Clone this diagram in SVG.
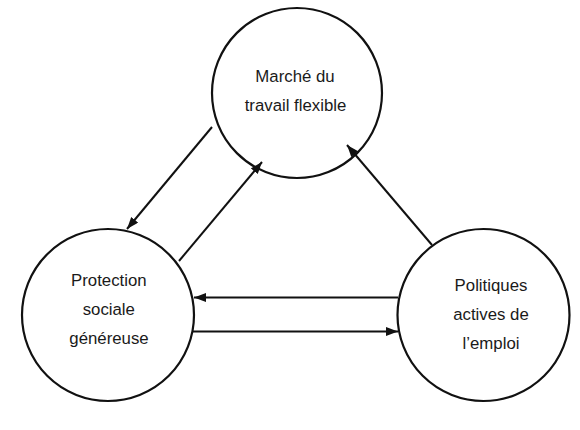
<svg xmlns="http://www.w3.org/2000/svg" width="580" height="430" viewBox="0 0 580 430">
  <style>
    .node circle { fill: #ffffff; stroke: #111111; stroke-width: 2.2; }
    .node text { font-family: "Liberation Sans", Arial, sans-serif; font-size: 16.8px; fill: #1a1a1a; text-anchor: middle; }
    .edge { stroke: #111111; stroke-width: 2; fill: none; marker-end: url(#arrow); }
  </style>
  <defs>
    <marker id="arrow" markerUnits="userSpaceOnUse" markerWidth="13" markerHeight="10" refX="12" refY="4.5" orient="auto">
      <path d="M0,0 L12,4.5 L0,9 Z" fill="#111111"/>
    </marker>
  </defs>
  <rect width="580" height="430" fill="#ffffff"/>
  <g id="node-marche" class="node">
    <circle cx="297" cy="93" r="85"/>
    <text x="295" y="81.5">Marché du</text>
    <text x="295.5" y="110.5">travail flexible</text>
  </g>
  <g id="node-protection" class="node">
    <circle cx="108" cy="315" r="86"/>
    <text x="108.8" y="285.7">Protection</text>
    <text x="108.8" y="315">sociale</text>
    <text x="109" y="344">généreuse</text>
  </g>
  <g id="node-politiques" class="node">
    <circle cx="483.5" cy="315" r="86"/>
    <text x="491" y="290.7">Politiques</text>
    <text x="491" y="320">actives de</text>
    <text x="491" y="349.3">l’emploi</text>
  </g>
  <g id="connectors">
    <line class="edge" x1="212" y1="127" x2="127" y2="229"/>
    <line class="edge" x1="179" y1="261" x2="262" y2="162"/>
    <line class="edge" x1="432" y1="245" x2="347" y2="145"/>
    <line class="edge" x1="398" y1="297.5" x2="194" y2="297.5"/>
    <line class="edge" x1="193" y1="331.5" x2="398" y2="331.5"/>
  </g>
</svg>
